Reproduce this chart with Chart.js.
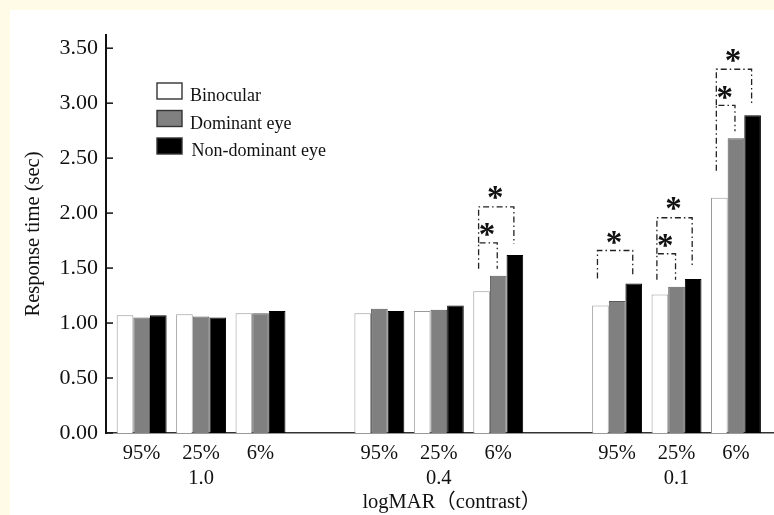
<!DOCTYPE html>
<html>
<head>
<meta charset="utf-8">
<script src="https://cdn.jsdelivr.net/npm/chart.js@4/dist/chart.umd.min.js"></script>
<style>
  html, body { margin: 0; padding: 0; background: #fffbe7; width: 774px; height: 515px; overflow: hidden; }
  #wrap { position: absolute; left: 10px; top: 10px; width: 764px; height: 505px; background: #ffffff; }
  canvas { display: block; }
</style>
</head>
<body>
<div id="wrap"><canvas id="c" width="764" height="505"></canvas></div>
<script>
// ---- data ----
const slots = [0, 1, 2, 4, 5, 6, 8, 9, 10];
const contrastLabels = ['95%', '25%', '6%', '95%', '25%', '6%', '95%', '25%', '6%'];
const logmarLabels = ['1.0', '0.4', '0.1'];
const seriesNames = ['Binocular', 'Dominant eye', 'Non-dominant eye'];
const binocular   = [1.07, 1.08, 1.09, 1.09, 1.11, 1.29, 1.16, 1.26, 2.14];
const dominant    = [1.05, 1.06, 1.09, 1.13, 1.12, 1.43, 1.20, 1.33, 2.68];
const nonDominant = [1.07, 1.05, 1.11, 1.11, 1.16, 1.62, 1.36, 1.40, 2.89];
const xTitle = 'logMAR（contrast）';
const yTitle = 'Response time (sec)';
// significance brackets: point index, from series, to series
const sigPoint = [5, 5, 6, 7, 7, 8, 8];
const sigFrom  = [0, 0, 0, 0, 0, 0, 0];
const sigTo    = [1, 2, 2, 1, 2, 1, 2];
const sigMark  = ['*', '*', '*', '*', '*', '*', '*'];

const FONT = '"Liberation Serif", "Noto Sans CJK SC", serif';
const fills   = ['#ffffff', '#808080', '#000000'];
const borders = ['#9a9a9a', '#5a5a5a', '#000000'];
const seriesValues = [binocular, dominant, nonDominant];

const datasets = seriesValues.map((vals, s) => ({
  label: seriesNames[s],
  data: slots.map((x, i) => ({ x: x, y: vals[i] })),
  backgroundColor: fills[s],
  borderColor: borders[s],
  borderWidth: 1,
  categoryPercentage: 0.84,
  barPercentage: 1.0
}));

const innerTicks = {
  id: 'innerTicks',
  afterDraw(chart) {
    const y = chart.scales.y, ctx = chart.ctx, left = chart.chartArea.left;
    ctx.save();
    ctx.strokeStyle = '#111';
    ctx.lineWidth = 1.5;
    y.ticks.forEach(t => {
      const py = y.getPixelForValue(t.value);
      ctx.beginPath(); ctx.moveTo(left, py); ctx.lineTo(left + 7, py); ctx.stroke();
    });
    ctx.restore();
  }
};

const xTitlePlugin = {
  id: 'xTitlePlugin',
  afterDraw(chart) {
    const ctx = chart.ctx, xs = chart.scales.x;
    ctx.save();
    ctx.font = '20.5px ' + FONT;
    ctx.fillStyle = '#111';
    ctx.textAlign = 'center';
    ctx.textBaseline = 'middle';
    ctx.fillText(xTitle, xs.getPixelForValue(5) + 13, xs.bottom - 12);
    ctx.restore();
  }
};

const legendBox = {
  id: 'legendBox',
  afterDraw(chart) {
    const ctx = chart.ctx;
    ctx.save();
    ctx.font = '18px ' + FONT;
    ctx.textBaseline = 'alphabetic';
    ctx.textAlign = 'left';
    chart.data.datasets.forEach((ds, i) => {
      const top = 73 + i * 27.5;
      ctx.fillStyle = ds.backgroundColor;
      ctx.fillRect(147, top, 25, 16);
      ctx.strokeStyle = '#333';
      ctx.lineWidth = 1.4;
      ctx.strokeRect(147, top, 25, 16);
      ctx.fillStyle = '#111';
      ctx.fillText(ds.label, 180 + (i === 2 ? 1.5 : 0), top + 18.3);
    });
    ctx.restore();
  }
};

const brackets = {
  id: 'brackets',
  afterDatasetsDraw(chart) {
    const ctx = chart.ctx;
    const info = [];
    sigPoint.forEach((p, k) => {
      const a = sigFrom[k], b = sigTo[k];
      const barA = chart.getDatasetMeta(a).data[p];
      const barB = chart.getDatasetMeta(b).data[p];
      let maxTop = Infinity;
      for (let s = a; s <= b; s++) maxTop = Math.min(maxTop, chart.getDatasetMeta(s).data[p].y);
      let innerIdx = -1;
      sigPoint.forEach((p2, k2) => {
        if (k2 !== k && p2 === p && sigFrom[k2] === a && sigTo[k2] < b) innerIdx = k2;
      });
      info.push({ k, p, a, b, barA, barB, maxTop, innerIdx });
    });
    const tops = {};
    info.filter(o => o.innerIdx < 0).forEach(o => { tops[o.k] = o.maxTop - 33; });
    info.filter(o => o.innerIdx >= 0).forEach(o => { tops[o.k] = Math.min(tops[o.innerIdx] - 36, o.maxTop - 46); });

    ctx.save();
    ctx.strokeStyle = '#222';
    ctx.lineWidth = 1.3;
    ctx.setLineDash([6, 3, 1.5, 3]);
    info.forEach(o => {
      const top = tops[o.k];
      const xL = o.barA.x - 3;
      const xR = o.barB.x - 1;
      const level = o.innerIdx >= 0 ? 1 : 0;
      const rightBottom = o.barB.y - (level ? 11 : 7);
      const leftBottom = level ? tops[o.innerIdx] : Math.max(rightBottom, o.barA.y - 27);
      ctx.beginPath();
      ctx.moveTo(xL, leftBottom);
      ctx.lineTo(xL, top);
      ctx.lineTo(xR, top);
      ctx.lineTo(xR, rightBottom);
      ctx.stroke();
    });
    ctx.setLineDash([]);
    ctx.fillStyle = '#111';
    ctx.font = 'bold 33px ' + FONT;
    ctx.textAlign = 'center';
    ctx.textBaseline = 'alphabetic';
    info.forEach(o => {
      const top = tops[o.k];
      const xL = o.barA.x - 3, xR = o.barB.x - 1;
      const cy = top - (o.innerIdx >= 0 ? 14 : 13);
      const m = ctx.measureText(sigMark[o.k]);
      const base = cy + (m.actualBoundingBoxAscent - m.actualBoundingBoxDescent) / 2;
      ctx.fillText(sigMark[o.k], (xL + xR) / 2 - 1, base);
    });
    ctx.restore();
  }
};

new Chart(document.getElementById('c'), {
  type: 'bar',
  data: { datasets },
  options: {
    responsive: false,
    animation: false,
    devicePixelRatio: 1,
    layout: { padding: { top: 25, right: 0, left: 0, bottom: 0 } },
    plugins: { legend: { display: false }, tooltip: { enabled: false } },
    scales: {
      x: {
        type: 'linear',
        min: -0.6,
        max: 10.64,
        offset: false,
        grid: { display: false, drawTicks: false, offset: false },
        border: { display: true, color: '#333', width: 1.6 },
        afterBuildTicks: (scale) => { scale.ticks = slots.map(v => ({ value: v })); },
        afterFit: (scale) => { scale.height = 82; },
        ticks: {
          autoSkip: false,
          maxRotation: 0,
          padding: 8.5,
          color: '#111',
          font: { family: FONT, size: 20.5, lineHeight: 1.22 },
          callback: (value) => {
            const i = slots.indexOf(value);
            if (i < 0) return '';
            return (i % 3 === 1) ? [contrastLabels[i], logmarLabels[Math.floor(i / 3)]] : contrastLabels[i];
          }
        },
        title: { display: false }
      },
      y: {
        min: 0,
        max: 3.62,
        grid: { display: false, drawTicks: false },
        border: { display: true, color: '#111', width: 2 },
        afterFit: (scale) => { scale.width = 96; },
        ticks: {
          stepSize: 0.5,
          includeBounds: false,
          padding: 8,
          color: '#111',
          font: { family: FONT, size: 22 },
          callback: (v) => Number(v).toFixed(2)
        },
        title: {
          display: true,
          text: yTitle,
          color: '#111',
          font: { family: FONT, size: 20.5, lineHeight: 1.2 },
          padding: { top: 11, bottom: 0 }
        }
      }
    }
  },
  plugins: [innerTicks, legendBox, brackets, xTitlePlugin]
});
</script>
</body>
</html>
